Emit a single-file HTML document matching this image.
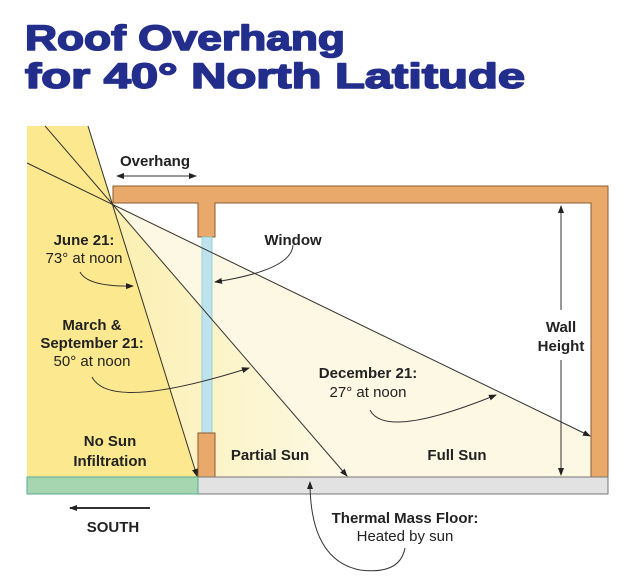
<!DOCTYPE html>
<html><head><style>html,body{margin:0;padding:0;background:#fff}</style></head><body>
<svg width="640" height="580" viewBox="0 0 640 580" xmlns="http://www.w3.org/2000/svg" font-family="Liberation Sans, sans-serif">
<defs>
<marker id="a" markerWidth="8" markerHeight="8" refX="7" refY="4" orient="auto" markerUnits="userSpaceOnUse"><path d="M0,1 L8,4 L0,7 Z" fill="#222"/></marker>
<marker id="b" markerWidth="8" markerHeight="8" refX="1" refY="4" orient="auto" markerUnits="userSpaceOnUse"><path d="M8,1 L0,4 L8,7 Z" fill="#222"/></marker>
<linearGradient id="g1" x1="0" y1="0" x2="1" y2="0"><stop offset="0" stop-color="#fbefb0"/><stop offset="1" stop-color="#fdf9e6"/></linearGradient>
</defs>
<g fill="#232e8c" stroke="#232e8c" stroke-width="1.6" stroke-linejoin="round">
<text x="25" y="50" font-size="35" font-weight="bold" textLength="320" lengthAdjust="spacingAndGlyphs">Roof Overhang</text>
<text x="25" y="88" font-size="35" font-weight="bold" textLength="500" lengthAdjust="spacingAndGlyphs">for 40° North Latitude</text>
</g>
<polygon points="113,203 591,436 591,477 198,477" fill="#fdf8e4"/>
<polygon points="113,203 347,477 198,477" fill="url(#g1)"/>
<polygon points="27,126 88,126 113,203 198,477 27,477" fill="#fbe88f"/>
<path d="M113,186 H608 V477 H591 V203 H215 V237 H198 V203 H113 Z" fill="#e9a96a" stroke="#8a5a30" stroke-width="1"/>
<rect x="202" y="237" width="10" height="196" fill="#bfe3ee" stroke="#8cc" stroke-width="0.8"/>
<rect x="198" y="433" width="17" height="44" fill="#e9a96a" stroke="#8a5a30" stroke-width="1"/>
<rect x="198" y="477" width="410" height="17" fill="#e2e2e2" stroke="#777" stroke-width="1"/>
<rect x="27" y="477" width="171" height="17" fill="#a6d6b0" stroke="#5a9" stroke-width="1"/>
<g stroke="#333" stroke-width="1" fill="none">
<line x1="88" y1="126" x2="197" y2="476" marker-end="url(#a)"/>
<line x1="45" y1="126" x2="347" y2="476" marker-end="url(#a)"/>
<line x1="27" y1="163" x2="590" y2="436" marker-end="url(#a)"/>
<line x1="117" y1="176" x2="196" y2="176" marker-start="url(#b)" marker-end="url(#a)"/>
<line x1="561" y1="206" x2="561" y2="310" marker-start="url(#b)"/>
<line x1="561" y1="360" x2="561" y2="475" marker-end="url(#a)"/>
<path d="M80,272 Q88,287 133,286" marker-end="url(#a)"/>
<path d="M92,377 Q110,412 249,368" marker-end="url(#a)"/>
<path d="M293,245 Q292,270 215,282" marker-end="url(#a)"/>
<path d="M370,410 Q385,440 496,395" marker-end="url(#a)"/>
<path d="M405,548 Q400,575 360,570 Q310,560 310,482" marker-end="url(#a)"/>
<line x1="150" y1="508" x2="70" y2="508" stroke-width="2" marker-end="url(#a)"/>
</g>
<g font-size="15" fill="#222" text-anchor="middle">
<text x="155" y="166" font-weight="bold">Overhang</text>
<text x="84" y="245" font-weight="bold">June 21:</text>
<text x="84" y="263">73° at noon</text>
<text x="92" y="330" font-weight="bold">March &amp;</text>
<text x="92" y="348" font-weight="bold">September 21:</text>
<text x="92" y="366">50° at noon</text>
<text x="293" y="245" font-weight="bold">Window</text>
<text x="368" y="378" font-weight="bold">December 21:</text>
<text x="368" y="397">27° at noon</text>
<text x="561" y="332" font-weight="bold">Wall</text>
<text x="561" y="351" font-weight="bold">Height</text>
<text x="110" y="446" font-weight="bold">No Sun</text>
<text x="110" y="466" font-weight="bold">Infiltration</text>
<text x="270" y="460" font-weight="bold">Partial Sun</text>
<text x="457" y="460" font-weight="bold">Full Sun</text>
<text x="405" y="523" font-weight="bold">Thermal Mass Floor:</text>
<text x="405" y="541">Heated by sun</text>
<text x="113" y="532" font-weight="bold">SOUTH</text>
</g>
</svg>
</body></html>
